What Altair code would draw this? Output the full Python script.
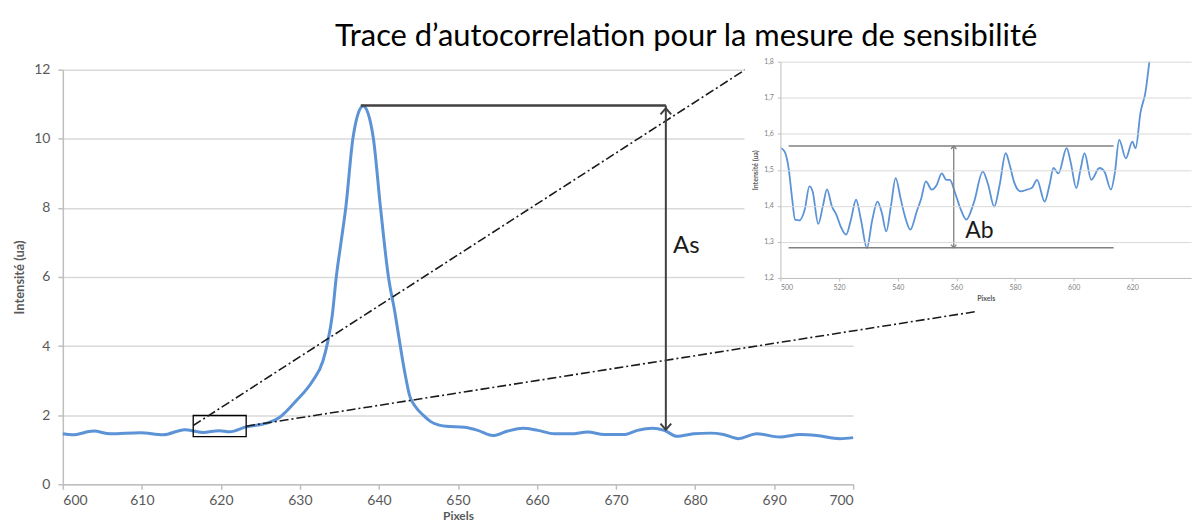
import altair as alt
import pandas as pd

TITLE = "Trace d\u2019autocorrelation pour la mesure de sensibilit\u00e9"

# ---- main trace (Pixels 600..700) ----
main_x = [600, 601.2, 603.9, 606, 609.8, 612.7, 615.4, 617.7, 619.8, 621.1, 623.2, 625.7,
          627.4, 629.5, 631.6, 632.9, 633.5, 634.1, 634.6, 635.2, 635.8, 636.7, 637.2, 638.0,
          638.8, 639.3, 640.2, 641.2, 642.0, 642.7, 643.3, 643.9, 644.6, 645.6, 646.5, 647.5,
          648.5, 650.8, 652.5, 654.4, 656.3, 658.2, 660.1, 662.2, 664.3, 666.4, 668.5, 671.0,
          672.7, 674.6, 676.1, 677.7, 679.8, 681.9, 683.6, 685.5, 687.8, 690.7, 693.3, 695.4,
          698.3, 700]
main_y = [1.46, 1.43, 1.54, 1.46, 1.49, 1.43, 1.58, 1.50, 1.55, 1.52, 1.66, 1.76,
          1.93, 2.41, 2.99, 3.56, 4.1, 4.9, 6.0, 7.0, 8.0, 10.0, 10.6, 10.95,
          10.6, 10.0, 8.0, 6.0, 5.0, 4.0, 3.2, 2.55, 2.25, 2.0, 1.82, 1.72,
          1.68, 1.65, 1.56, 1.41, 1.54, 1.62, 1.56, 1.46, 1.46, 1.51, 1.44, 1.44,
          1.56, 1.62, 1.56, 1.39, 1.46, 1.48, 1.44, 1.32, 1.46, 1.37, 1.44, 1.41,
          1.32, 1.35]

# ---- inset trace (Pixels 500..640) ----
inset_x = [500.3, 501.5, 502.8, 504.0, 505.0, 506.5, 508.3, 509.9, 511.0, 512.9, 514.5, 515.9,
           517.5, 519.1, 520.7, 522.4, 524.0, 525.8, 527.5, 529.5, 531.3, 533.1, 534.6, 536.1,
           537.7, 539.3, 541.0, 542.5, 544.3, 546.5, 548.0, 549.6, 551.6, 553.3, 555.0, 556.6,
           557.8, 559.4, 561.5, 563.4, 566.0, 569.0, 570.8, 572.9, 574.8, 576.8, 578.3, 579.6,
           581.9, 584.1, 585.8, 587.5, 590.1, 591.8, 593.1, 594.8, 597.6, 599.0, 600.9, 602.3,
           603.7, 606.0, 608.8, 610.5, 612.7, 614.0, 615.5, 617.8, 620.0, 621.1, 622.8, 624.5,
           625.8]
inset_y = [1.56, 1.55, 1.505, 1.42, 1.362, 1.36, 1.39, 1.454, 1.44, 1.35, 1.40, 1.446,
           1.40, 1.375, 1.34, 1.32, 1.36, 1.417, 1.36, 1.283, 1.36, 1.412, 1.38, 1.329,
           1.40, 1.477, 1.42, 1.37, 1.334, 1.385, 1.42, 1.468, 1.445, 1.458, 1.49, 1.472,
           1.472, 1.44, 1.39, 1.362, 1.41, 1.495, 1.46, 1.398, 1.46, 1.546, 1.51, 1.468,
           1.44, 1.445, 1.45, 1.472, 1.412, 1.46, 1.505, 1.49, 1.56, 1.52, 1.449, 1.50,
           1.546, 1.472, 1.505, 1.495, 1.445, 1.49, 1.583, 1.532, 1.578, 1.56, 1.66, 1.717,
           1.8]

main_x_ticks = [600, 610, 620, 630, 640, 650, 660, 670, 680, 690, 700]
main_y_ticks = [0, 2, 4, 6, 8, 10, 12]
inset_x_ticks = [500, 520, 540, 560, 580, 600, 620]
inset_y_ticks = [1.2, 1.3, 1.4, 1.5, 1.6, 1.7, 1.8]

# annotations (data units)
box_x = [616.5, 623.2]
box_y = [1.38, 1.99]
conn_id = ["haut", "haut", "bas", "bas"]
conn_x = [616.5, 687.5, 623.2, 715.6]
conn_y = [1.70, 12.17, 1.68, 5.0]
as_x = [637.7, 676.3]
as_level = 10.96
as_low = 1.58
as_label = ["As"]
as_label_pos = [677.2, 6.9]
ab_x = [502.8, 613.6]
ab_levels = [1.566, 1.284]
ab_arrow_x = 559.1
ab_label = ["Ab"]
ab_label_pos = [563.0, 1.33]

FONT = "Lato"
BLUE = "#5B93D6"
GRID = "#d9d9d9"
AXIS = "#bfbfbf"
LABEL = "#595959"
DARK = "#404040"
UP = "M-0.9,1L0,0L0.9,1"
DOWN = "M-0.9,-1L0,0L0.9,-1"

MW, MH = 793, 424      # drawn extent of the main plot
MW_SLOT = 720          # width reserved in the layout (inset overlaps the rest)
IW, IH = 412, 217

xs = alt.Scale(domain=[600, 700], range=[0, MW], nice=False, zero=False)
ys = alt.Scale(domain=[0, 12], range=[MH, 8], nice=False)

main_x_axis = alt.Axis(
    values=main_x_ticks, title="Pixels", grid=False, labelFont=FONT, labelFontSize=14,
    labelColor=LABEL, tickColor=AXIS, tickSize=5, tickWidth=1.5, domainColor=AXIS,
    domainWidth=1.5, labelPadding=4, titleFont=FONT, titleFontSize=12,
    titleFontWeight="bold", titleColor=LABEL, titlePadding=3)
main_y_axis = alt.Axis(
    values=main_y_ticks, title="Intensit\u00e9 (ua)", grid=True, gridColor=GRID,
    gridWidth=1.5, labelFont=FONT, labelFontSize=14, labelColor=LABEL, tickColor=AXIS,
    tickSize=5, tickWidth=1.5, domainColor=AXIS, domainWidth=1.5, labelPadding=8,
    titleFont=FONT, titleFontSize=13, titleFontWeight="bold", titleColor=LABEL,
    titlePadding=7)


def MX(f="x"):
    return alt.X(f + ":Q", scale=xs, axis=main_x_axis)


def MY(f="y"):
    return alt.Y(f + ":Q", scale=ys, axis=main_y_axis)


main_line = alt.Chart(pd.DataFrame({"x": main_x, "y": main_y})).mark_line(
    color=BLUE, strokeWidth=3, interpolate="monotone"
).encode(x=MX(), y=MY())

box = alt.Chart(pd.DataFrame({"x": [box_x[0]], "x2": [box_x[1]], "y": [box_y[0]], "y2": [box_y[1]]})).mark_rect(
    fillOpacity=0, stroke="black", strokeWidth=1.3
).encode(x=MX(), x2="x2:Q", y=MY(), y2="y2:Q")

conn = alt.Chart(pd.DataFrame({"seg": conn_id, "x": conn_x, "y": conn_y})).mark_line(
    color="#1a1a1a", strokeWidth=1.6, strokeDash=[9, 3, 2, 3]
).encode(x=MX(), y=MY(), detail="seg:N")

as_h = alt.Chart(pd.DataFrame({"x": [as_x[0]], "x2": [as_x[1]], "y": [as_level]})).mark_rule(
    color=DARK, strokeWidth=2.5
).encode(x=MX(), x2="x2:Q", y=MY())

as_v = alt.Chart(pd.DataFrame({"x": [as_x[1]], "y": [as_low], "y2": [as_level]})).mark_rule(
    color=DARK, strokeWidth=2
).encode(x=MX(), y=MY(), y2="y2:Q")

as_up = alt.Chart(pd.DataFrame({"x": [as_x[1]], "y": [as_level - 0.08]})).mark_point(
    shape=UP, filled=False, size=144, strokeWidth=2, color=DARK, opacity=1
).encode(x=MX(), y=MY())

as_down = alt.Chart(pd.DataFrame({"x": [as_x[1]], "y": [as_low]})).mark_point(
    shape=DOWN, filled=False, size=144, strokeWidth=2, color=DARK, opacity=1
).encode(x=MX(), y=MY())

as_text = alt.Chart(pd.DataFrame({"t": as_label, "x": [as_label_pos[0]], "y": [as_label_pos[1]]})).mark_text(
    font=FONT, fontSize=24, align="left", baseline="middle", color="#1a1a1a"
).encode(x=MX(), y=MY(), text="t:N")

main = alt.layer(main_line, box, conn, as_h, as_v, as_up, as_down, as_text).properties(
    width=MW_SLOT, height=MH)

# ---- inset ----
ixs = alt.Scale(domain=[500, 640], nice=False, zero=False)
iys = alt.Scale(domain=[1.2, 1.8], nice=False, zero=False)

inset_x_axis = alt.Axis(
    values=inset_x_ticks, title="Pixels", grid=False, labelFont=FONT, labelFontSize=7,
    labelColor="#7f7f7f", tickColor=AXIS, tickSize=3, domainColor=AXIS, labelPadding=3,
    titleFont=FONT, titleFontSize=7, titleFontWeight="bold", titleColor=LABEL,
    titlePadding=4, zindex=1)
inset_y_axis = alt.Axis(
    values=inset_y_ticks, title="Intensit\u00e9 (ua)", grid=True, gridColor=GRID, gridWidth=1,
    labelExpr="replace(format(datum.value, '.1f'), '.', ',')", labelFont=FONT,
    labelFontSize=7, labelColor="#7f7f7f", tickColor=AXIS, tickSize=3, domainColor=AXIS,
    labelPadding=4, titleFont=FONT, titleFontSize=7, titleFontWeight="bold",
    titleColor=LABEL, titlePadding=5, zindex=1)


def IX(f="x"):
    return alt.X(f + ":Q", scale=ixs, axis=inset_x_axis)


def IY(f="y"):
    return alt.Y(f + ":Q", scale=iys, axis=inset_y_axis)


bg = alt.Chart(pd.DataFrame({"a": [0]})).mark_rect(color="white", opacity=1).encode(
    x=alt.value(-36), x2=alt.value(IW), y=alt.value(-6), y2=alt.value(IH + 30)
)

inset_line = alt.Chart(pd.DataFrame({"x": inset_x, "y": inset_y})).mark_line(
    color=BLUE, strokeWidth=1.8, interpolate="monotone"
).encode(x=IX(), y=IY())

ab_h = alt.Chart(pd.DataFrame({"x": [ab_x[0]] * 2, "x2": [ab_x[1]] * 2, "y": ab_levels})).mark_rule(
    color="#808080", strokeWidth=1.6
).encode(x=IX(), x2="x2:Q", y=IY())

ab_v = alt.Chart(pd.DataFrame({"x": [ab_arrow_x], "y": [ab_levels[1]], "y2": [ab_levels[0]]})).mark_rule(
    color="#808080", strokeWidth=1.3
).encode(x=IX(), y=IY(), y2="y2:Q")

ab_up = alt.Chart(pd.DataFrame({"x": [ab_arrow_x], "y": [ab_levels[0]]})).mark_point(
    shape=UP, filled=False, size=36, strokeWidth=1.3, color="#808080", opacity=1
).encode(x=IX(), y=IY())

ab_down = alt.Chart(pd.DataFrame({"x": [ab_arrow_x], "y": [ab_levels[1]]})).mark_point(
    shape=DOWN, filled=False, size=36, strokeWidth=1.3, color="#808080", opacity=1
).encode(x=IX(), y=IY())

ab_text = alt.Chart(pd.DataFrame({"t": ab_label, "x": [ab_label_pos[0]], "y": [ab_label_pos[1]]})).mark_text(
    font=FONT, fontSize=23, align="left", baseline="middle", color="#1a1a1a"
).encode(x=IX(), y=IY(), text="t:N")

inset = alt.layer(bg, inset_line, ab_h, ab_v, ab_up, ab_down, ab_text).properties(width=IW, height=IH)

chart = alt.hconcat(main, inset, spacing=0, bounds="flush").properties(
    title=alt.TitleParams(TITLE, font=FONT, fontSize=31, fontWeight="normal", color="black",
                          anchor="middle", dx=84, offset=2.5),
    padding={"left": 5, "top": 12, "right": 2, "bottom": 0},
).configure_view(strokeWidth=0)

chart.save("out.html", embed_options={"renderer": "svg", "actions": False})
